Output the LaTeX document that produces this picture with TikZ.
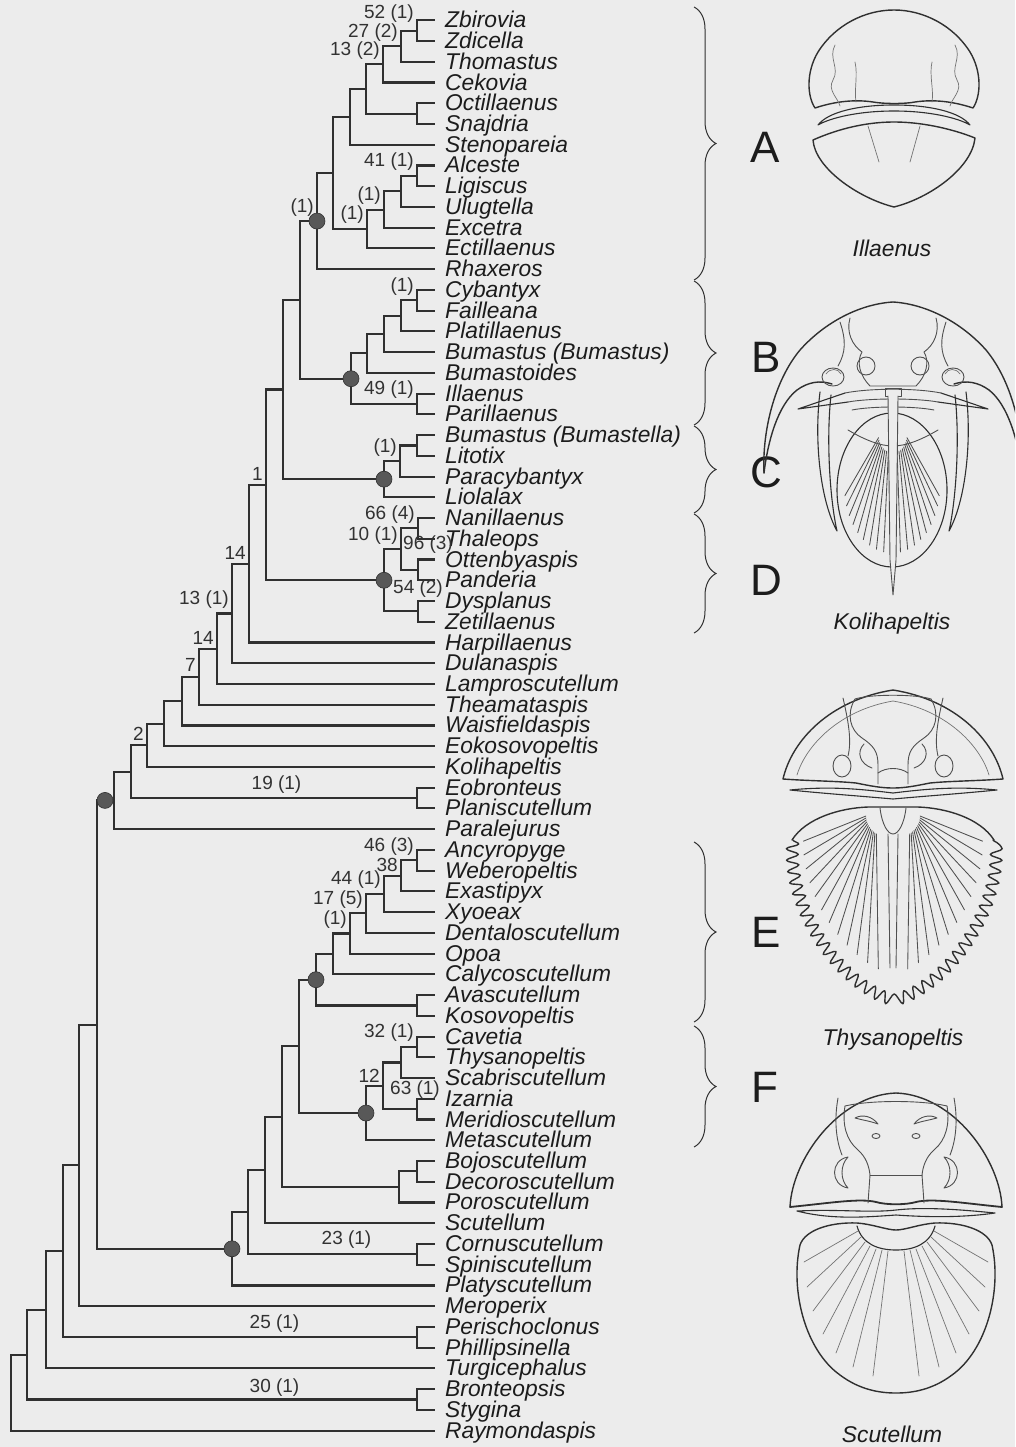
\documentclass[tikz,border=0pt]{standalone}
\usepackage{fontspec}
\setmainfont{Liberation Sans}
\usetikzlibrary{calc,decorations.pathreplacing,decorations.pathmorphing}

\definecolor{paper}{RGB}{236,236,236}
\definecolor{ink}{RGB}{48,48,48}
\definecolor{txt}{RGB}{28,28,28}
\definecolor{numc}{RGB}{50,50,50}
\definecolor{dotc}{RGB}{88,88,88}
\definecolor{thin}{RGB}{115,115,115}

\newcommand\taxfont{\fontsize{22.8}{26}\selectfont\itshape}
\newcommand\numfont{\fontsize{19}{22}\selectfont}
\newcommand\letterfont{\fontsize{44}{50}\selectfont}

% vertical position (px, downwards) of row #1
\newcommand\rowy[1]{20.3+20.74*(#1-1)}

% a terminal taxon: tip coordinate plus its name
\newcommand\taxon[3]{%
  \coordinate (#1) at (434,{\rowy{#2}});
  \node[taxlbl] (#1-name) at (445,{\rowy{#2}+7.5}) {#3};}

% an internal node at x = #2, halfway between its two children, with elbow branches
\newcommand\clade[4]{%
  \path let \p1=(#3), \p2=(#4) in (#2pt,{(\y1+\y2)/2}) coordinate (#1);
  \draw[branch] (#1) |- (#3);
  \draw[branch] (#1) |- (#4);}

% support value written above the stem of a node
\newcommand\suplab[3][]{%
  \node[numlbl,anchor=base east,#1] (#2-sup) at ([xshift=-3pt,yshift=9pt]#2) {#3};}

\tikzset{
  branch/.style={draw=ink,line width=2.1pt,line cap=rect},
  taxlbl/.style={anchor=base west,inner sep=0pt,text=txt,font=\taxfont},
  numlbl/.style={inner sep=0pt,text=numc,font=\numfont},
  nodedot/.style={fill=dotc,draw=ink,line width=0.6pt},
  bracestyle/.style={draw=ink,line width=1pt,decorate,decoration={brace,amplitude=22pt}},
  cladeletter/.style={inner sep=0pt,text=txt,font=\letterfont},
  capt/.style={anchor=base,inner sep=0pt,text=txt,font=\taxfont},
  outl/.style={draw=ink,line width=1.4pt,line join=round,line cap=round},
  medline/.style={draw=ink!85,line width=0.9pt,line join=round,line cap=round},
  fineline/.style={draw=thin,line width=0.7pt,line cap=round},
  ribline/.style={draw=ink!85,line width=0.85pt,line cap=round},
}

\begin{document}
\begin{tikzpicture}[x=1pt,y=-1pt]
\fill[paper] (0,0) rectangle (1015,1447);
\useasboundingbox (0,0) rectangle (1015,1447);
\clip (0,0) rectangle (1015,1447);

% ---------------- terminal taxa ----------------
\taxon{zbi}{1}{Zbirovia}
\taxon{zdi}{2}{Zdicella}
\taxon{tho}{3}{Thomastus}
\taxon{cek}{4}{Cekovia}
\taxon{oct}{5}{Octillaenus}
\taxon{sna}{6}{Snajdria}
\taxon{ste}{7}{Stenopareia}
\taxon{alc}{8}{Alceste}
\taxon{lig}{9}{Ligiscus}
\taxon{ulu}{10}{Ulugtella}
\taxon{exc}{11}{Excetra}
\taxon{ect}{12}{Ectillaenus}
\taxon{rha}{13}{Rhaxeros}
\taxon{cyb}{14}{Cybantyx}
\taxon{fai}{15}{Failleana}
\taxon{pla}{16}{Platillaenus}
\taxon{bub}{17}{Bumastus (Bumastus)}
\taxon{bus}{18}{Bumastoides}
\taxon{ill}{19}{Illaenus}
\taxon{par}{20}{Parillaenus}
\taxon{bum}{21}{Bumastus (Bumastella)}
\taxon{lit}{22}{Litotix}
\taxon{pcy}{23}{Paracybantyx}
\taxon{lio}{24}{Liolalax}
\taxon{nan}{25}{Nanillaenus}
\taxon{tha}{26}{Thaleops}
\taxon{ott}{27}{Ottenbyaspis}
\taxon{pan}{28}{Panderia}
\taxon{dys}{29}{Dysplanus}
\taxon{zet}{30}{Zetillaenus}
\taxon{har}{31}{Harpillaenus}
\taxon{dul}{32}{Dulanaspis}
\taxon{lam}{33}{Lamproscutellum}
\taxon{thm}{34}{Theamataspis}
\taxon{wai}{35}{Waisfieldaspis}
\taxon{eok}{36}{Eokosovopeltis}
\taxon{kol}{37}{Kolihapeltis}
\taxon{eob}{38}{Eobronteus}
\taxon{pls}{39}{Planiscutellum}
\taxon{pal}{40}{Paralejurus}
\taxon{anc}{41}{Ancyropyge}
\taxon{web}{42}{Weberopeltis}
\taxon{exa}{43}{Exastipyx}
\taxon{xyo}{44}{Xyoeax}
\taxon{den}{45}{Dentaloscutellum}
\taxon{opo}{46}{Opoa}
\taxon{cal}{47}{Calycoscutellum}
\taxon{ava}{48}{Avascutellum}
\taxon{kos}{49}{Kosovopeltis}
\taxon{cav}{50}{Cavetia}
\taxon{thy}{51}{Thysanopeltis}
\taxon{sca}{52}{Scabriscutellum}
\taxon{iza}{53}{Izarnia}
\taxon{mer}{54}{Meridioscutellum}
\taxon{met}{55}{Metascutellum}
\taxon{boj}{56}{Bojoscutellum}
\taxon{dec}{57}{Decoroscutellum}
\taxon{por}{58}{Poroscutellum}
\taxon{scu}{59}{Scutellum}
\taxon{cor}{60}{Cornuscutellum}
\taxon{spi}{61}{Spiniscutellum}
\taxon{plt}{62}{Platyscutellum}
\taxon{mrp}{63}{Meroperix}
\taxon{per}{64}{Perischoclonus}
\taxon{phi}{65}{Phillipsinella}
\taxon{tur}{66}{Turgicephalus}
\taxon{bro}{67}{Bronteopsis}
\taxon{sty}{68}{Stygina}
\taxon{ray}{69}{Raymondaspis}

% ---------------- internal nodes ----------------
\clade{a1}{417}{zbi}{zdi}
\clade{a2}{401}{a1}{tho}
\clade{a3}{383}{a2}{cek}
\clade{a4}{417}{oct}{sna}
\clade{a5}{366}{a3}{a4}
\clade{a6}{350}{a5}{ste}
\clade{a7}{417}{alc}{lig}
\clade{a8}{401}{a7}{ulu}
\clade{a9}{384}{a8}{exc}
\clade{a10}{367}{a9}{ect}
\clade{a11}{333}{a6}{a10}
\clade{nA}{317}{a11}{rha}
\clade{b1}{417}{cyb}{fai}
\clade{b2}{401}{b1}{pla}
\clade{b3}{384}{b2}{bub}
\clade{b4}{367}{b3}{bus}
\clade{b5}{417}{ill}{par}
\clade{nB}{351}{b4}{b5}
\clade{nAB}{300}{nA}{nB}
\clade{c1}{417}{bum}{lit}
\clade{c2}{400}{c1}{pcy}
\clade{nC}{384}{c2}{lio}
\clade{nABC}{283}{nAB}{nC}
\clade{d1}{418}{nan}{tha}
\clade{d2}{418}{ott}{pan}
\clade{d3}{401}{d1}{d2}
\clade{d4}{418}{dys}{zet}
\clade{nD}{384}{d3}{d4}
\clade{nAD}{266}{nABC}{nD}
\clade{k1}{249}{nAD}{har}
\clade{k2}{232}{k1}{dul}
\clade{k3}{217}{k2}{lam}
\clade{k4}{199}{k3}{thm}
\clade{k5}{182}{k4}{wai}
\clade{k6}{164}{k5}{eok}
\clade{k7}{147}{k6}{kol}
\clade{k8}{417}{eob}{pls}
\clade{k9}{131}{k7}{k8}
\clade{k10}{114}{k9}{pal}
\clade{e1}{417}{anc}{web}
\clade{e2}{401}{e1}{exa}
\clade{e3}{384}{e2}{xyo}
\clade{e4}{366}{e3}{den}
\clade{e5}{350}{e4}{opo}
\clade{e6}{333}{e5}{cal}
\clade{e7}{417}{ava}{kos}
\clade{nE}{316}{e6}{e7}
\clade{f1}{417}{cav}{thy}
\clade{f2}{401}{f1}{sca}
\clade{f3}{417}{iza}{mer}
\clade{f4}{383}{f2}{f3}
\clade{nF}{366}{f4}{met}
\clade{nEF}{299}{nE}{nF}
\clade{g1}{417}{boj}{dec}
\clade{g2}{399}{g1}{por}
\clade{g3}{282}{nEF}{g2}
\clade{g4}{265}{g3}{scu}
\clade{g5}{417}{cor}{spi}
\clade{g6}{248}{g4}{g5}
\clade{nG}{232}{g6}{plt}
\clade{r1}{97}{k10}{nG}
\clade{r2}{79}{r1}{mrp}
\clade{r3}{417}{per}{phi}
\clade{r4}{63}{r2}{r3}
\clade{r5}{46}{r4}{tur}
\clade{r6}{417}{bro}{sty}
\clade{r7}{27}{r5}{r6}
\clade{root}{11}{r7}{ray}

% marked nodes
\foreach \n in {nA,nB,nC,nD,nE,nF,nG} \filldraw[nodedot] (\n) circle (8pt);
\filldraw[nodedot] ([xshift=-9pt]k10) circle (8pt);

% ---------------- support values ----------------
\suplab[yshift=3pt]{a1}{52 (1)}
\suplab{a2}{27 (2)}
\suplab{a3}{13 (2)}
\suplab{a7}{41 (1)}
\suplab{a9}{(1)}
\suplab{a10}{(1)}
\suplab{nA}{(1)}
\suplab{b1}{(1)}
\suplab{b5}{49 (1)}
\suplab{c2}{(1)}
\suplab[yshift=-4.5pt]{nAD}{1}
\suplab{d1}{66 (4)}
\suplab{d3}{10 (1)}
\suplab[yshift=-4.5pt]{k1}{14}
\suplab{k2}{13 (1)}
\suplab[yshift=-4.5pt]{k3}{14}
\suplab[yshift=-4pt]{k4}{7}
\suplab[yshift=-4pt]{k7}{2}
\suplab{e1}{46 (3)}
\suplab[yshift=-5pt]{e2}{38}
\suplab{e3}{44 (1)}
\suplab{e4}{17 (5)}
\suplab{e5}{(1)}
\suplab{f1}{32 (1)}
\suplab[yshift=-6pt]{f4}{12}
\node[numlbl,anchor=base west] (d2-sup) at ([xshift=-15pt,yshift=20.5pt]d2) {96 (3)};
\node[numlbl,anchor=base west] (d4-sup) at ([xshift=-25pt,yshift=17.5pt]d4) {54 (2)};
\node[numlbl,anchor=base west] (f3-sup) at ([xshift=-27pt,yshift=14.5pt]f3) {63 (1)};
\node[numlbl,anchor=base] (k8-sup) at ([xshift=-140.5pt,yshift=8.5pt]k8) {19 (1)};
\node[numlbl,anchor=base] (g5-sup) at ([xshift=-70.5pt,yshift=9.5pt]g5) {23 (1)};
\node[numlbl,anchor=base] (r3-sup) at ([xshift=-142.5pt,yshift=8.5pt]r3) {25 (1)};
\node[numlbl,anchor=base] (r6-sup) at ([xshift=-142.5pt,yshift=7.5pt]r6) {30 (1)};

% ---------------- clade braces and letters ----------------
\draw[bracestyle] (694,7) -- (694,280);
\draw[bracestyle] (694,281) -- (694,425);
\draw[bracestyle] (694,426) -- (694,513);
\draw[bracestyle] (694,514) -- (694,633);
\draw[bracestyle] (694,842) -- (694,1022);
\draw[bracestyle] (694,1026) -- (694,1147);
\node[cladeletter] (letA) at (765,147) {A};
\node[cladeletter] (letB) at (766,357) {B};
\node[cladeletter] (letC) at (766,472) {C};
\node[cladeletter] (letD) at (766,580) {D};
\node[cladeletter] (letE) at (766,932) {E};
\node[cladeletter] (letF) at (765,1087) {F};

% ---------------- Illaenus ----------------
\draw[outl] (815,108) .. controls (807,96) and (806,72) .. (818,52)
  .. controls (835,25) and (865,10) .. (894,10)
  .. controls (923,10) and (953,25) .. (970,52)
  .. controls (982,72) and (981,96) .. (973,108)
  .. controls (955,102) and (935,99) .. (915,102)
  .. controls (905,104) and (884,104) .. (873,102)
  .. controls (853,99) and (833,102) .. (815,108) -- cycle;
\draw[outl,line width=1.1pt] (818,125) .. controls (828,112) and (858,105) .. (894,105)
  .. controls (930,105) and (960,112) .. (970,125)
  .. controls (958,118) and (930,111) .. (894,111)
  .. controls (858,111) and (830,118) .. (818,125) -- cycle;
\draw[outl] (813,140) .. controls (840,128) and (868,122) .. (894,122)
  .. controls (920,122) and (950,128) .. (975,138)
  .. controls (972,168) and (930,198) .. (894,207)
  .. controls (858,198) and (815,168) .. (813,140) -- cycle;
\draw[fineline] (855,62) .. controls (858,75) and (854,90) .. (856,102);
\draw[fineline] (932,62) .. controls (929,75) and (934,90) .. (932,102);
\draw[fineline] (835,45) .. controls (828,58) and (840,68) .. (833,80) .. controls (827,90) and (838,98) .. (840,106);
\draw[fineline] (955,45) .. controls (962,58) and (950,68) .. (957,80) .. controls (963,90) and (952,98) .. (950,106);
\draw[fineline] (868,126) -- (879,162);
\draw[fineline] (920,126) -- (910,162);
\node[capt] (capIll) at (892,256) {Illaenus};

% ---------------- Kolihapeltis ----------------
\draw[outl] (764,473) .. controls (762,430) and (775,380) .. (800,350)
  .. controls (825,322) and (860,304) .. (893,302)
  .. controls (926,304) and (961,322) .. (986,350)
  .. controls (1011,380) and (1024,430) .. (1022,473);
\draw[outl] (764,473) .. controls (768,440) and (778,405) .. (797,390) .. controls (808,382) and (820,380) .. (832,384);
\draw[outl] (1022,473) .. controls (1018,440) and (1008,405) .. (989,390) .. controls (978,382) and (966,380) .. (954,384);
\draw[medline] (850,318) .. controls (846,332) and (852,345) .. (862,352)
  .. controls (856,362) and (860,376) .. (870,386) -- (916,386)
  .. controls (926,376) and (930,362) .. (924,352)
  .. controls (934,345) and (940,332) .. (936,318);
\draw[medline] (866,366) circle (9pt);
\draw[medline] (920,366) circle (9pt);
\draw[medline] (840,322) .. controls (846,340) and (846,352) .. (838,366);
\draw[medline] (946,322) .. controls (940,340) and (940,352) .. (948,366);
\draw[medline] (833,377) ellipse (11pt and 9pt);
\draw[medline] (953,377) ellipse (11pt and 9pt);
\draw[fineline] (826,374) .. controls (830,368) and (838,368) .. (841,374);
\draw[fineline] (945,374) .. controls (948,368) and (956,368) .. (960,374);
\draw[outl,line width=1.1pt] (845,393) -- (798,409) -- (848,402);
\draw[outl,line width=1.1pt] (941,393) -- (988,409) -- (938,402);
\draw[medline] (845,393) .. controls (870,388) and (916,388) .. (941,393);
\draw[medline] (848,402) .. controls (870,398) and (916,398) .. (938,402);
\draw[medline] (852,410) .. controls (872,406) and (914,406) .. (934,410);
\draw[medline] (885,388) rectangle (901,396);
\draw[outl,line width=1.1pt] (820,392) .. controls (814,440) and (820,500) .. (837,531)
  .. controls (830,500) and (826,440) .. (831,395);
\draw[outl,line width=1.1pt] (966,392) .. controls (972,440) and (966,500) .. (949,531)
  .. controls (956,500) and (960,440) .. (955,395);
\draw[outl,line width=1.1pt] (892,490) ellipse (55pt and 77pt);
\draw[medline] (848,430) .. controls (865,440) and (880,446) .. (893,446)
  .. controls (906,446) and (921,440) .. (938,430);
% pygidial ribs fanning out from the front of the axis
\coordinate (KL) at (890,418);
\coordinate (KR) at (896,418);
\foreach \a in {172,163,154,145,136,127,118,109,100} {
  \draw[ribline] ($(KL)!0.24!({892+50*cos(\a)},{490+70*sin(\a)})$) -- ($(KL)!0.95!({892+50*cos(\a)},{490+70*sin(\a)})$);
  \draw[ribline] ($(KR)!0.24!({892-50*cos(\a)},{490+70*sin(\a)})$) -- ($(KR)!0.95!({892-50*cos(\a)},{490+70*sin(\a)})$);
}
\draw[medline,fill=paper] (888,396) -- (890,560) -- (893,595) -- (896,560) -- (898,396);
\node[capt] (capKol) at (892,629) {Kolihapeltis};

% ---------------- Thysanopeltis ----------------
\draw[outl] (783,779) .. controls (792,740) and (830,700) .. (893,690)
  .. controls (956,700) and (994,740) .. (1003,779)
  .. controls (975,781) and (950,781) .. (930,783)
  .. controls (915,786) and (905,788) .. (893,788)
  .. controls (881,788) and (871,786) .. (856,783)
  .. controls (836,781) and (811,781) .. (783,779) -- cycle;
\draw[fineline] (797,775) .. controls (806,745) and (840,710) .. (893,701) .. controls (946,710) and (980,745) .. (989,775);
\draw[medline] (855,699) .. controls (846,714) and (850,730) .. (862,738) .. controls (874,746) and (878,752) .. (878,765) -- (878,784);
\draw[medline] (931,699) .. controls (940,714) and (936,730) .. (924,738) .. controls (912,746) and (908,752) .. (908,765) -- (908,784);
\draw[medline] (855,699) .. controls (870,694) and (916,694) .. (931,699);
\draw[medline] (864,744) .. controls (856,752) and (860,764) .. (872,768);
\draw[medline] (922,744) .. controls (930,752) and (926,764) .. (914,768);
\draw[medline] (878,773) .. controls (886,767) and (900,767) .. (908,773);
\draw[medline] (843,698) .. controls (848,720) and (852,740) .. (848,756);
\draw[medline] (943,698) .. controls (938,720) and (934,740) .. (938,756);
\draw[medline] (842,766) ellipse (9pt and 11pt);
\draw[medline] (944,766) ellipse (9pt and 11pt);
\draw[outl,line width=1.1pt] (790,790) .. controls (830,786) and (860,789) .. (893,793)
  .. controls (926,789) and (956,786) .. (997,790)
  .. controls (956,794) and (926,796) .. (893,799)
  .. controls (860,796) and (830,794) .. (790,790) -- cycle;
\draw[outl] (792,840) .. controls (806,818) and (840,808) .. (868,807) -- (918,807)
  .. controls (946,808) and (980,818) .. (994,840);
\draw[outl,decorate,decoration={snake,segment length=11pt,amplitude=6pt}]
  (793,840) .. controls (787,905) and (840,983) .. (893,997)
  .. controls (946,983) and (999,905) .. (993,840);
\coordinate (FL) at (876,812);
\coordinate (FR) at (910,812);
\foreach \t in {0.03,0.11,0.19,0.27,0.35,0.43,0.51,0.59,0.67,0.75,0.83,0.91} {
  \path (792,840) .. controls (786,905) and (840,985) .. (893,1000) coordinate[pos=\t] (mL);
  \path (994,840) .. controls (1000,905) and (946,985) .. (893,1000) coordinate[pos=\t] (mR);
  \draw[ribline] ($(FL)!0.12!(mL)$) -- ($(FL)!0.86!(mL)$);
  \draw[ribline] ($(FR)!0.12!(mR)$) -- ($(FR)!0.86!(mR)$);
}
\draw[medline] (880,808) .. controls (882,825) and (888,834) .. (893,834) .. controls (898,834) and (904,825) .. (906,808);
\draw[medline] (888,834) -- (890,968);
\draw[medline] (898,834) -- (896,968);
\node[capt] (capThy) at (893,1045) {Thysanopeltis};

% ---------------- Scutellum ----------------
\draw[outl] (790,1207) .. controls (792,1160) and (838,1095) .. (896,1093)
  .. controls (954,1095) and (1000,1160) .. (1002,1207);
\draw[outl,line width=1.8pt] (790,1207) .. controls (830,1203) and (860,1198) .. (876,1202)
  .. controls (886,1205) and (906,1205) .. (916,1202)
  .. controls (932,1198) and (962,1203) .. (1002,1207);
\draw[outl,line width=1.1pt] (797,1211) .. controls (840,1209) and (870,1213) .. (896,1210)
  .. controls (922,1207) and (955,1209) .. (995,1213)
  .. controls (960,1218) and (925,1217) .. (896,1215)
  .. controls (867,1217) and (832,1220) .. (797,1211) -- cycle;
\draw[outl] (857,1223) .. controls (830,1222) and (805,1230) .. (800,1245)
  .. controls (790,1290) and (805,1350) .. (840,1375)
  .. controls (860,1390) and (880,1393) .. (896,1393)
  .. controls (912,1393) and (932,1390) .. (952,1375)
  .. controls (987,1350) and (1002,1290) .. (992,1245)
  .. controls (987,1230) and (962,1222) .. (935,1223)
  .. controls (920,1224) and (905,1230) .. (896,1230)
  .. controls (887,1230) and (872,1224) .. (857,1223) -- cycle;
\draw[outl,line width=1.1pt] (857,1226) .. controls (862,1244) and (878,1250) .. (896,1250)
  .. controls (914,1250) and (930,1244) .. (935,1226);
\foreach \sx/\sy/\ex/\ey in {858/1231/804/1262, 861/1237/807/1287, 865/1242/813/1311,
    870/1246/823/1334, 876/1249/836/1353, 882/1250/853/1367, 888/1251/873/1376} {
  \draw[fineline] (\sx,\sy) -- (\ex,\ey);
  \draw[fineline] ({1792-\sx},\sy) -- ({1792-\ex},\ey);
}
\draw[medline] (845,1106) .. controls (842,1124) and (846,1140) .. (858,1150)
  .. controls (866,1157) and (869,1166) .. (870,1175) -- (868,1203);
\draw[medline] (947,1106) .. controls (950,1124) and (946,1140) .. (934,1150)
  .. controls (926,1157) and (923,1166) .. (922,1175) -- (924,1203);
\draw[medline] (845,1106) .. controls (870,1100) and (922,1100) .. (947,1106);
\draw[medline] (870,1175) -- (922,1175);
\draw[medline] (848,1157) .. controls (830,1160) and (830,1185) .. (848,1188)
  .. controls (840,1180) and (840,1165) .. (848,1157);
\draw[medline] (944,1157) .. controls (962,1160) and (962,1185) .. (944,1188)
  .. controls (952,1180) and (952,1165) .. (944,1157);
\draw[medline] (855,1118) .. controls (862,1114) and (872,1116) .. (878,1124)
  .. controls (870,1121) and (862,1120) .. (855,1118);
\draw[medline] (937,1118) .. controls (930,1114) and (920,1116) .. (914,1124)
  .. controls (922,1121) and (930,1120) .. (937,1118);
\draw[medline] (876,1136) ellipse (4pt and 2.5pt);
\draw[medline] (916,1136) ellipse (4pt and 2.5pt);
\draw[medline] (838,1098) .. controls (834,1120) and (836,1140) .. (842,1155);
\draw[medline] (954,1098) .. controls (958,1120) and (956,1140) .. (950,1155);
\node[capt] (capScu) at (892,1442) {Scutellum};
\end{tikzpicture}
\end{document}
